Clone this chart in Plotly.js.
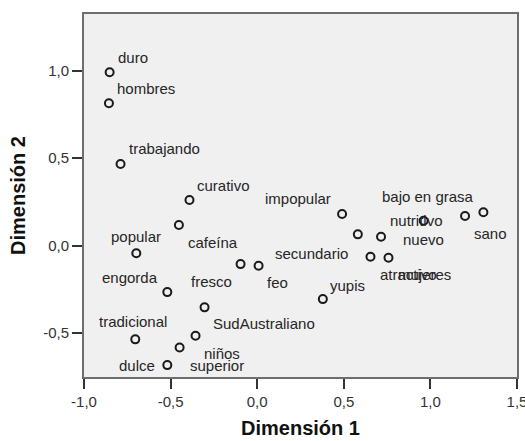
<!DOCTYPE html>
<html><head><meta charset="utf-8">
<script src="https://cdn.plot.ly/plotly-3.0.1.min.js"></script>
<style>html,body{margin:0;padding:0;background:#fff}</style>
</head><body><div id="chart" style="width:525px;height:441px"></div>
<script>
// ---- data ----
const labels = ["duro","hombres","trabajando","curativo","cafeína","popular","engorda","SudAustraliano","tradicional","niños","superior","dulce","fresco","feo","yupis","impopular","secundario","nutritivo","nuevo","sano","bajo en grasa","atractivo","mujeres"];
const dim1 = [-0.852,-0.856,-0.789,-0.391,-0.452,-0.698,-0.519,-0.304,-0.704,-0.356,-0.448,-0.519,-0.096,0.008,0.379,0.490,0.581,0.715,0.961,1.200,1.306,0.654,0.758];
const dim2 = [0.991,0.814,0.467,0.261,0.118,-0.043,-0.265,-0.352,-0.535,-0.514,-0.581,-0.682,-0.105,-0.114,-0.305,0.181,0.065,0.051,0.143,0.170,0.191,-0.063,-0.069];
const xTickVals = [-1.0,-0.5,0.0,0.5,1.0,1.5];
const yTickVals = [-0.5,0.0,0.5,1.0];
const fmt = v => v.toFixed(1).replace(".", ",");
const xTickText = xTickVals.map(fmt);
const yTickText = yTickVals.map(fmt);

// ---- label placement (layout only): anchor, pixel dx, pixel dy (down) ----
const placement = {
  "duro":["left",7,-15],"hombres":["left",7,-15],"trabajando":["left",7,-16],"curativo":["left",7,-15],
  "cafeína":["left",8,17],"popular":["center",0,-17],"engorda":["right",-8,-15],"SudAustraliano":["left",7,16],
  "tradicional":["center",-2,-18],"niños":["left",7,18],"superior":["left",9,18],"dulce":["right",-11,0],
  "fresco":["right",-8,17],"feo":["left",7,17],"yupis":["left",6,-14],"impopular":["right",-10,-16],
  "secundario":["right",-9,19],"nutritivo":["left",8,-16],"nuevo":["center",0,19],"sano":["left",8,18],
  "bajo en grasa":["right",-8,-16],"atractivo":["left",9,18],"mujeres":["left",9,17]
};

const FONT = "Liberation Sans, Arial, sans-serif";
const annotations = labels.map((t,i)=>{
  const p = placement[t] || ["left",7,-15];
  return {x:dim1[i], y:dim2[i], xref:"x", yref:"y", text:t, showarrow:false,
    xanchor:p[0], yanchor:"middle", xshift:p[1], yshift:-p[2], borderpad:0,
    font:{family:FONT,size:15,color:"#262626"}};
});

const trace = {x:dim1, y:dim2, text:labels, type:"scatter", mode:"markers", hoverinfo:"text",
  marker:{symbol:"circle-open", size:8, color:"#1a1a1a", line:{width:2,color:"#1a1a1a"}}};

const axisCommon = {showgrid:false, zeroline:false, showline:true, linecolor:"#6e6e6e", linewidth:2, mirror:true,
  ticks:"outside", ticklen:10, tickwidth:2, tickcolor:"#333", ticklabeloverflow:"allow",
  tickfont:{family:FONT,size:15,color:"#333"}};

const layout = {
  width:525, height:441, margin:{l:84,r:8,t:14,b:64},
  paper_bgcolor:"#ffffff", plot_bgcolor:"#f0f0f0", showlegend:false,
  xaxis:Object.assign({}, axisCommon, {range:[-1.0,1.5], tickmode:"array", tickvals:xTickVals, ticktext:xTickText,
    title:{text:"Dimensión 1", standoff:12, font:{family:FONT,size:20,color:"#111",weight:"bold"}}}),
  yaxis:Object.assign({}, axisCommon, {range:[-0.75,1.324], tickmode:"array", tickvals:yTickVals, ticktext:yTickText,
    title:{text:"Dimensión 2", standoff:12, font:{family:FONT,size:20,color:"#111",weight:"bold"}}}),
  annotations:annotations
};
Plotly.newPlot("chart",[trace],layout,{displayModeBar:false,staticPlot:true});
</script></body></html>
